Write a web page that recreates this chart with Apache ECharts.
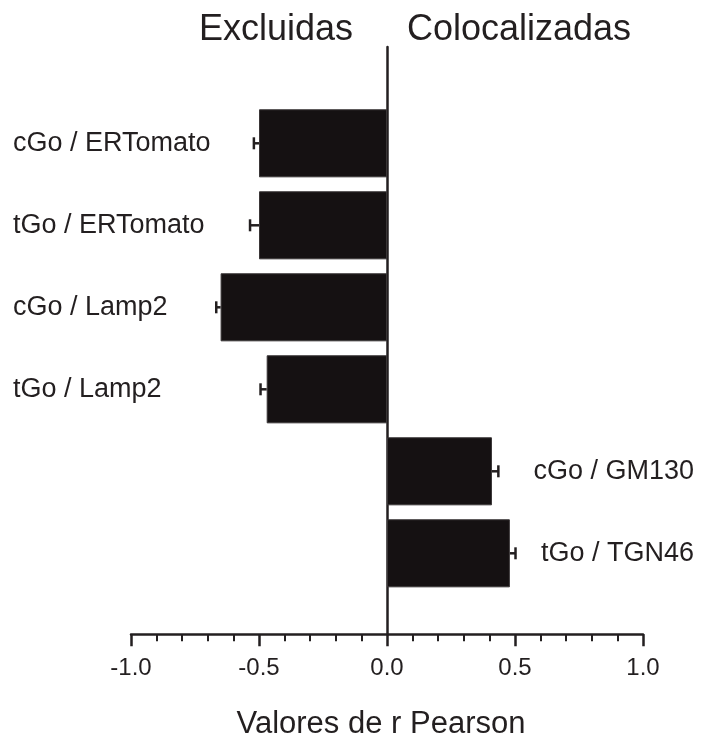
<!DOCTYPE html>
<html>
<head>
<meta charset="utf-8">
<script src="https://cdn.jsdelivr.net/npm/echarts@6/dist/echarts.min.js"></script>
<style>html,body{margin:0;padding:0;background:#fff}#c{width:701px;height:736px}</style>
</head>
<body>
<div id="c"></div>
<script>
const categories = ['cGo / ERTomato', 'tGo / ERTomato', 'cGo / Lamp2', 'tGo / Lamp2', 'cGo / GM130', 'tGo / TGN46'];
const pearsonValues = [-0.50, -0.50, -0.65, -0.47, 0.41, 0.48];
const pearsonErrors = [0.02, 0.035, 0.017, 0.024, 0.025, 0.022];
const xTickLabels = ['-1.0', '-0.5', '0.0', '0.5', '1.0'];
const leftLabelCount = 4;

const INK = '#231f20';
const FONT = 'Liberation Sans, Arial, Helvetica, sans-serif';

const chart = echarts.init(document.getElementById('c'), null, {renderer: 'canvas'});

const errData = pearsonValues.map((v, i) => [v, i, pearsonErrors[i]]);

chart.setOption({
  animation: false,
  backgroundColor: '#fff',
  title: [
    {text: 'Excluidas', left: 271, top: 7, textAlign: 'center',
     textStyle: {fontFamily: FONT, fontSize: 36, fontWeight: 'normal', color: INK}},
    {text: 'Colocalizadas', left: 514, top: 7, textAlign: 'center',
     textStyle: {fontFamily: FONT, fontSize: 36, fontWeight: 'normal', color: INK}},
    {text: 'Valores de r Pearson', left: 376, top: 704, textAlign: 'center',
     textStyle: {fontFamily: FONT, fontSize: 31, fontWeight: 'normal', color: INK}}
  ],
  grid: [
    {left: 131, width: 512, top: 102.3, height: 492, containLabel: false},
    {left: 131, width: 512, top: 47, height: 587.3, containLabel: false}
  ],
  xAxis: [
    {gridIndex: 0, type: 'value', min: -1, max: 1, show: false},
    {gridIndex: 1, type: 'value', min: -1, max: 1, interval: 0.5, position: 'bottom',
     axisLine: {show: true, onZero: false, lineStyle: {color: INK, width: 2.5}},
     axisTick: {show: true, length: 12, lineStyle: {color: INK, width: 2.5}},
     minorTick: {show: true, splitNumber: 5, length: 7, lineStyle: {color: INK, width: 2}},
     splitLine: {show: false},
     axisLabel: {margin: 22, fontFamily: FONT, fontSize: 24, color: INK,
       formatter: function (v) {
         const idx = Math.round((v + 1) / 0.5);
         return xTickLabels[idx] !== undefined ? xTickLabels[idx] : '';
       }}}
  ],
  yAxis: [
    {gridIndex: 0, type: 'category', data: categories, inverse: true, position: 'left',
     axisLine: {show: false}, axisTick: {show: false},
     axisLabel: {align: 'left', margin: 118, fontFamily: FONT, fontSize: 27, color: INK,
       formatter: function (v, i) { return i < leftLabelCount ? v : ''; }}},
    {gridIndex: 0, type: 'category', data: categories, inverse: true, position: 'right',
     axisLine: {show: false}, axisTick: {show: false},
     axisLabel: {align: 'right', margin: 51, fontFamily: FONT, fontSize: 27, color: INK,
       formatter: function (v, i) { return i >= leftLabelCount ? v : ''; }}},
    {gridIndex: 1, type: 'value', min: 0, max: 1,
     axisLine: {show: true, onZero: true, lineStyle: {color: INK, width: 2.5}},
     axisTick: {show: false}, axisLabel: {show: false}, splitLine: {show: false}}
  ],
  series: [
    {type: 'bar', xAxisIndex: 0, yAxisIndex: 0, data: pearsonValues,
     barCategoryGap: '17%',
     itemStyle: {color: '#151112', borderColor: '#3a3637', borderWidth: 1}},
    {type: 'custom', xAxisIndex: 0, yAxisIndex: 0, data: errData,
     encode: {x: 0, y: 1}, z: 3,
     renderItem: function (params, api) {
       const v = api.value(0), idx = api.value(1), e = api.value(2);
       const end = v + (v < 0 ? -e : e);
       const p1 = api.coord([v, idx]);
       const p2 = api.coord([end, idx]);
       const style = {stroke: INK, lineWidth: 2.5, fill: null};
       return {type: 'group', children: [
         {type: 'line', shape: {x1: p1[0], y1: p1[1], x2: p2[0], y2: p2[1]}, style: style},
         {type: 'line', shape: {x1: p2[0], y1: p2[1] - 6, x2: p2[0], y2: p2[1] + 6}, style: style}
       ]};
     }}
  ]
});
</script>
</body>
</html>
